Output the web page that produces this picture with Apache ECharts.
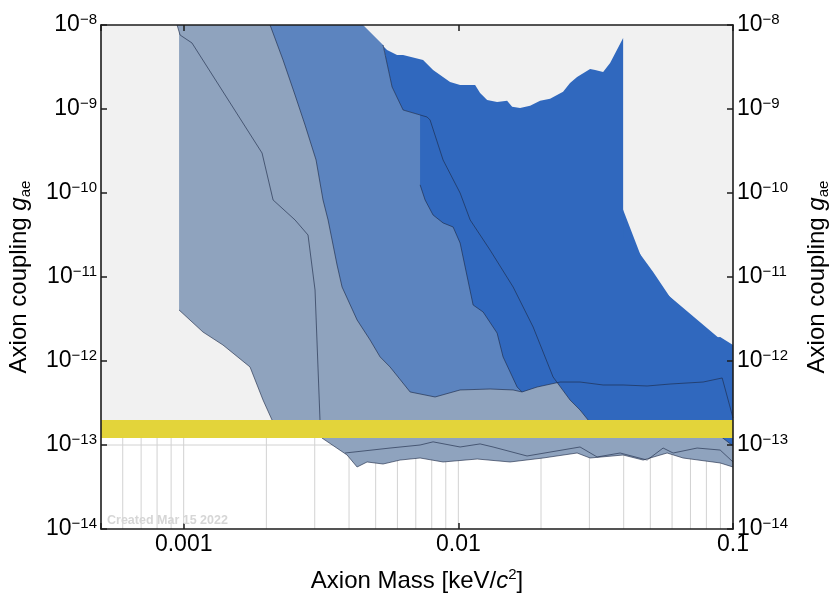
<!DOCTYPE html>
<html>
<head>
<meta charset="utf-8">
<script src="https://cdn.jsdelivr.net/npm/echarts@6/dist/echarts.min.js"></script>
<style>
  html, body { margin: 0; padding: 0; background: #ffffff; }
  #chart { width: 833px; height: 599px; }
</style>
</head>
<body>
<div id="chart"></div>
<script>
const FONT = '"Liberation Sans", Arial, Helvetica, sans-serif';

// Axis ranges and tick labels (mass in keV/c^2, coupling dimensionless)
const massRange = [0.0005, 0.1];
const couplingRange = [1e-14, 1e-8];
const massTicks = [0.001, 0.01, 0.1];
const massTickLabels = ['0.001', '0.01', '0.1'];
const couplingExponents = [-14, -13, -12, -11, -10, -9, -8];

// Light grid lines (only visible in the open region at the bottom)
const massGrid = [0.0006, 0.0007, 0.0008, 0.0009,
  0.001, 0.002, 0.003, 0.004, 0.005, 0.006, 0.007, 0.008, 0.009,
  0.01, 0.02, 0.03, 0.04, 0.05, 0.06, 0.07, 0.08, 0.09];
const couplingGrid = [1e-13];

// Horizontal bands: [lower, upper] coupling
const astroBand = [1.21e-13, 1e-8];
const hintBand = [1.21e-13, 1.98e-13];

// Low-mass limit: lower boundary
const lowMassEdge = [
  [0.000962, 4.05e-12], [0.001176, 2.21e-12], [0.00139, 1.55e-12],
  [0.001744, 8.49e-13], [0.001945, 3.43e-13], [0.002098, 1.98e-13],
  [0.002339, 1.43e-13]
];
const lowMassClose = [[0.003163, 1.43e-13], [0.003084, 5.32e-12], [0.002653, 1e-8], [0.000962, 1e-8]];

// Broad limit: left edge and floor
const broadEdge = [
  [0.000946, 1e-8], [0.00097, 7.6e-9], [0.001072, 6.11e-9], [0.001929, 2.99e-10],
  [0.002116, 8.26e-11], [0.002543, 4.78e-11], [0.002836, 3.16e-11], [0.003008, 7.0e-12],
  [0.003136, 1.98e-13], [0.003189, 1.21e-13], [0.003935, 7.6e-14], [0.004279, 5.47e-14],
  [0.004653, 6.28e-14], [0.00532, 5.94e-14], [0.006137, 6.62e-14], [0.007257, 7.0e-14],
  [0.0088, 6.28e-14], [0.01171, 6.81e-14], [0.01543, 6.28e-14], [0.02035, 7.0e-14],
  [0.02706, 8.03e-14], [0.03018, 7.0e-14], [0.03981, 7.6e-14], [0.04708, 6.62e-14],
  [0.05756, 8.03e-14], [0.06582, 7.0e-14], [0.08981, 6.11e-14], [0.1, 5.47e-14]
];
const broadClose = [[0.1, 3.43e-13], [0.03882, 5.32e-12], [0.02347, 5.62e-10], [0.009331, 1.28e-9], [0.003711, 1e-8]];

// Second floor just above the broad one
const broadInnerEdge = [
  [0.00387, 8.03e-14], [0.005641, 9.2e-14], [0.007257, 1.0e-13], [0.008091, 1.09e-13],
  [0.01015, 9.47e-14], [0.012, 1.03e-13], [0.01338, 9.47e-14], [0.01779, 7.4e-14],
  [0.02774, 9.47e-14], [0.03201, 7.2e-14], [0.03882, 8.03e-14], [0.04868, 6.62e-14],
  [0.05566, 9.2e-14], [0.06053, 8.03e-14], [0.07402, 9.2e-14], [0.08981, 8.71e-14],
  [0.1, 6.28e-14]
];

// Middle limit: left edge and floor
const midEdge = [
  [0.002063, 1e-8], [0.0023, 3.83e-9], [0.002543, 1.47e-9], [0.002766, 6.45e-10],
  [0.003034, 2.47e-10], [0.003216, 8.26e-11], [0.003355, 4.78e-11], [0.003618, 1.39e-11],
  [0.003773, 7.6e-12], [0.004279, 3.08e-12], [0.004771, 1.78e-12], [0.005188, 1.12e-12],
  [0.005641, 8.49e-13], [0.006674, 4.28e-13], [0.008228, 3.73e-13], [0.01015, 4.52e-13],
  [0.01305, 4.64e-13], [0.01583, 4.52e-13], [0.01706, 4.28e-13]
];
const midClose = [
  [0.01825, 7.81e-13], [0.01419, 2.09e-11], [0.009331, 3.25e-10], [0.007257, 8.49e-10],
  [0.006293, 9.73e-10], [0.005738, 1.83e-9], [0.00532, 5.78e-9], [0.004499, 1e-8]
];

// Deep limit: left edge and floor
const deepTop = [0.007257, 8.49e-10];
const deepEdge = [
  [0.007257, 1.25e-10], [0.007568, 8.26e-11], [0.008091, 5.47e-11], [0.0088, 4.4e-11],
  [0.00957, 3.94e-11], [0.01015, 2.54e-11], [0.01132, 4.64e-12], [0.01231, 3.83e-12],
  [0.01384, 2.15e-12], [0.01455, 1.12e-12], [0.01637, 4.9e-13], [0.01706, 4.28e-13],
  [0.01936, 4.9e-13], [0.02347, 5.62e-13], [0.02774, 5.62e-13], [0.03366, 5.18e-13],
  [0.03981, 5.18e-13], [0.04868, 5.04e-13], [0.05902, 5.32e-13], [0.07785, 5.62e-13],
  [0.09133, 6.28e-13], [0.1, 2.1e-13]
];
const deepClose = [[0.1, 1.35e-12], [0.04993, 9.2e-12], [0.03282, 3.25e-10], [0.01678, 7.81e-10]];

// Wide limit: left edge, then right edge and upper boundary
const wideEdge = [
  [0.00532, 5.78e-9], [0.005738, 1.83e-9], [0.006293, 9.73e-10], [0.007696, 8.03e-10],
  [0.007891, 7.4e-10], [0.0088, 2.47e-10], [0.01015, 1.0e-10], [0.01104, 4.78e-11],
  [0.01305, 2.09e-11], [0.01583, 7.6e-12], [0.01872, 2.54e-12], [0.02213, 6.45e-13],
  [0.02551, 3.43e-13], [0.02774, 2.61e-13], [0.02969, 1.98e-13], [0.03282, 1.43e-13],
  [0.08981, 1.28e-13], [0.1, 9.73e-14]
];
const wideUpper = [
  [0.1, 1.55e-12], [0.08981, 1.93e-12], [0.08253, 1.88e-12], [0.07785, 2.15e-12],
  [0.06808, 3.73e-12], [0.05902, 5.75e-12], [0.0512, 1.15e-11], [0.04476, 2.09e-11],
  [0.04048, 2.91e-11], [0.03981, 3.0e-11], [0.03981, 7.0e-9], [0.03569, 3.53e-9],
  [0.03366, 2.75e-9], [0.03148, 2.91e-9], [0.03018, 2.99e-9], [0.02706, 2.40e-9],
  [0.02551, 2.04e-9], [0.02406, 1.60e-9], [0.02158, 1.32e-9], [0.01985, 1.25e-9],
  [0.01825, 1.09e-9], [0.01678, 1.03e-9], [0.0157, 1.06e-9], [0.01505, 1.25e-9],
  [0.01384, 1.21e-9], [0.01273, 1.28e-9], [0.012, 1.55e-9], [0.01151, 1.93e-9],
  [0.01015, 1.93e-9], [0.009331, 2.10e-9], [0.008091, 2.91e-9], [0.007441, 3.83e-9],
  [0.006293, 4.39e-9], [0.005982, 4.39e-9], [0.005501, 5.04e-9], [0.005277, 5.78e-9]
];

const COLORS = {
  astro: '#f1f1f1',
  grey: '#8fa3be',
  mid: '#5c84bf',
  deep: '#3068be',
  hint: '#e3d43a',
  edge: 'rgba(28, 40, 70, 0.62)',
  grid: '#d2d2d2',
  axis: '#1c1c1c'
};

function fillSeries(points, color, z) {
  return {
    type: 'custom', coordinateSystem: 'cartesian2d', z, silent: true,
    data: points,
    renderItem(params, api) {
      if (params.dataIndex !== 0) return null;
      return {
        type: 'polygon',
        shape: { points: points.map(p => api.coord(p)) },
        style: { fill: color }
      };
    }
  };
}

function bandSeries(range, color, z) {
  return {
    type: 'custom', coordinateSystem: 'cartesian2d', z, silent: true,
    data: [[massRange[0], range[0]], [massRange[1], range[1]]],
    renderItem(params, api) {
      if (params.dataIndex !== 0) return null;
      const a = api.coord([massRange[0], range[0]]);
      const b = api.coord([massRange[1], range[1]]);
      return {
        type: 'rect',
        shape: { x: a[0], y: b[1], width: b[0] - a[0], height: a[1] - b[1] },
        style: { fill: color }
      };
    }
  };
}

function edgeSeries(points, z) {
  return {
    type: 'line', data: points, z, silent: true, symbol: 'none', showSymbol: false,
    lineStyle: { color: COLORS.edge, width: 1 }
  };
}

const gridSeries = {
  type: 'custom', coordinateSystem: 'cartesian2d', z: 1, silent: true,
  data: massGrid.map(m => [m, couplingRange[0]]),
  renderItem(params, api) {
    const m = api.value(0);
    const a = api.coord([m, couplingRange[0]]);
    const b = api.coord([m, couplingRange[1]]);
    return { type: 'line', shape: { x1: a[0], y1: a[1], x2: b[0], y2: b[1] },
      style: { stroke: COLORS.grid, lineWidth: 1 } };
  }
};
const hGridSeries = {
  type: 'custom', coordinateSystem: 'cartesian2d', z: 1, silent: true,
  data: couplingGrid.map(g => [massRange[0], g]),
  renderItem(params, api) {
    const g = api.value(1);
    const a = api.coord([massRange[0], g]);
    const b = api.coord([massRange[1], g]);
    return { type: 'line', shape: { x1: a[0], y1: a[1], x2: b[0], y2: b[1] },
      style: { stroke: COLORS.grid, lineWidth: 1 } };
  }
};

function isDecade(v) {
  const l = Math.log10(v);
  return Math.abs(l - Math.round(l)) < 1e-6;
}
function massLabel(v) {
  const i = massTicks.findIndex(t => Math.abs(Math.log10(t) - Math.log10(v)) < 1e-6);
  return i < 0 ? '' : massTickLabels[i];
}
function couplingLabel(v) {
  if (!isDecade(v)) return '';
  const e = Math.round(Math.log10(v));
  if (couplingExponents.indexOf(e) < 0) return '';
  return '{b|10}{s|\u2212' + (-e) + '}';
}

const labelRich = {
  b: { fontFamily: FONT, fontSize: 23, color: '#000', lineHeight: 26 },
  s: { fontFamily: FONT, fontSize: 15, color: '#000', verticalAlign: 'top', lineHeight: 15 }
};
const titleRich = {
  t: { fontFamily: FONT, fontSize: 24, color: '#000', lineHeight: 28 },
  i: { fontFamily: FONT, fontSize: 24, color: '#000', fontStyle: 'italic', lineHeight: 28 },
  s: { fontFamily: FONT, fontSize: 15, color: '#000', verticalAlign: 'top', lineHeight: 15 },
  sub: { fontFamily: FONT, fontSize: 15, color: '#000', verticalAlign: 'bottom', lineHeight: 15 }
};

const axisLine = { show: true, onZero: false, lineStyle: { color: COLORS.axis, width: 1.6 } };
const axisTick = { show: true, inside: true, length: 6, lineStyle: { color: COLORS.axis, width: 1.5 } };

const chart = echarts.init(document.getElementById('chart'), null, { renderer: 'canvas' });
chart.setOption({
  animation: false,
  backgroundColor: '#ffffff',
  grid: { left: 101, right: 100, top: 25, bottom: 70, containLabel: false, outerBoundsMode: 'none' },
  xAxis: [
    {
      type: 'log', position: 'bottom', min: massRange[0], max: massRange[1], z: 10,
      axisLine, axisTick, splitLine: { show: false },
      axisLabel: { formatter: massLabel, margin: 4, fontFamily: FONT, fontSize: 23, color: '#000' },
      name: '{t|Axion Mass [keV/}{i|c}{s|2}{t|]}',
      nameLocation: 'middle', nameGap: 38,
      nameTextStyle: { rich: titleRich }
    },
    {
      type: 'log', position: 'top', min: massRange[0], max: massRange[1], z: 10,
      axisLine, axisTick, splitLine: { show: false }, axisLabel: { show: false }
    }
  ],
  yAxis: [
    {
      type: 'log', position: 'left', min: couplingRange[0], max: couplingRange[1], z: 10,
      axisLine, axisTick, splitLine: { show: false },
      axisLabel: { formatter: couplingLabel, margin: 4, rich: labelRich },
      name: '{t|Axion coupling }{i|g}{sub|ae}',
      nameLocation: 'middle', nameGap: 68, nameRotate: 90,
      nameTextStyle: { rich: titleRich }
    },
    {
      type: 'log', position: 'right', min: couplingRange[0], max: couplingRange[1], z: 10,
      axisLine, axisTick, splitLine: { show: false },
      axisLabel: { formatter: couplingLabel, margin: 4, rich: labelRich },
      name: '{t|Axion coupling }{i|g}{sub|ae}',
      nameLocation: 'middle', nameGap: 70, nameRotate: 90,
      nameTextStyle: { rich: titleRich }
    }
  ],
  series: [
    gridSeries,
    hGridSeries,
    bandSeries(astroBand, COLORS.astro, 2),
    fillSeries(lowMassEdge.concat(lowMassClose), COLORS.grey, 3),
    fillSeries(broadEdge.concat(broadClose), COLORS.grey, 3),
    edgeSeries(lowMassEdge, 4),
    edgeSeries(broadEdge, 4),
    edgeSeries(broadInnerEdge, 4),
    fillSeries(midEdge.concat(midClose), COLORS.mid, 5),
    edgeSeries(midEdge, 6),
    fillSeries([deepTop].concat(deepEdge, deepClose), COLORS.deep, 7),
    fillSeries(wideEdge.concat(wideUpper), COLORS.deep, 7),
    edgeSeries(deepEdge, 8),
    edgeSeries(wideEdge, 8),
    bandSeries(hintBand, COLORS.hint, 9)
  ],
  graphic: [
    {
      type: 'text', left: 107, top: 514, z: 100, silent: true,
      style: { text: 'Created Mar 15 2022', fontFamily: FONT, fontSize: 12.5, fontWeight: 'bold', fill: '#d6d6d6' }
    }
  ]
});
</script>
</body>
</html>
